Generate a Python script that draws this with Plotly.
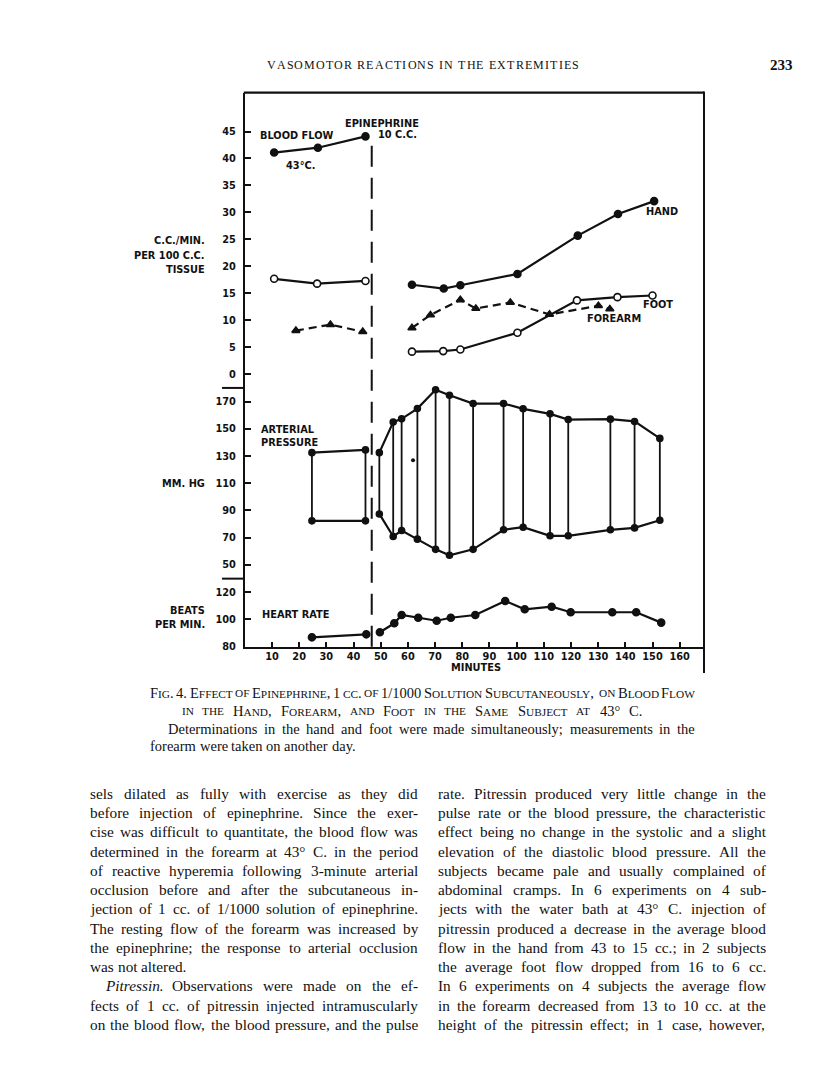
import plotly.graph_objects as go

W, H = 816, 1078

# ---------------- data ----------------
INJECTION_MIN = 46.7

# Blood flow, c.c./min per 100 c.c. tissue
hand_pre_t = [10.8, 26.9, 44.4]
hand_pre = [41.1, 42.0, 44.1]
hand_post_t = [61.5, 73.2, 79.3, 100.3, 122.5, 137.3, 150.6]
hand_post = [16.6, 15.9, 16.5, 18.6, 25.7, 29.7, 32.1]

foot_pre_t = [10.8, 26.6, 44.4]
foot_pre = [17.7, 16.8, 17.3]
foot_post_t = [61.5, 73.0, 79.3, 100.3, 122.2, 137.1, 150.0]
foot_post = [4.2, 4.3, 4.6, 7.7, 13.7, 14.3, 14.6]

forearm_pre_t = [18.8, 31.5, 43.4]
forearm_pre = [8.1, 9.2, 7.9]
forearm_post_t = [61.5, 68.3, 79.3, 85.0, 97.7, 112.1, 130.1, 134.3]
forearm_post = [8.6, 11.0, 13.8, 12.2, 13.3, 11.1, 12.7, 12.1]

# Arterial pressure, mm Hg
bp_pre_t = [24.7, 44.4]
bp_pre_sys = [132.6, 134.6]
bp_pre_dia = [82.3, 82.3]
bp_post_t = [49.5, 54.6, 57.7, 63.5, 70.2, 75.3, 84.0, 95.2, 102.4, 112.3, 119.0, 134.5, 143.4, 152.7]
bp_post_sys = [132.6, 155.1, 157.5, 165.1, 179.0, 174.9, 168.8, 168.8, 164.9, 161.2, 157.0, 157.3, 155.6, 143.1]
bp_post_dia = [87.4, 70.8, 75.2, 68.8, 61.3, 56.9, 61.3, 75.7, 77.6, 71.3, 71.3, 75.7, 77.1, 82.8]
bp_speck_t = [61.9]
bp_speck = [127.0]

# Heart rate, beats per min
hr_pre_t = [24.7, 44.7]
hr_pre = [86.9, 89.1]
hr_post_t = [49.7, 55.0, 57.7, 63.8, 70.6, 75.8, 84.8, 95.8, 103.0, 112.9, 119.9, 135.2, 144.0, 153.2]
hr_post = [90.6, 97.2, 103.3, 101.3, 99.1, 101.3, 103.3, 113.6, 107.5, 109.4, 105.3, 105.3, 105.3, 97.7]

# Tick labels
x_ticks = list(range(10, 161, 10))
flow_ticks = list(range(0, 46, 5))
bp_ticks = list(range(50, 171, 20))
hr_ticks = [80, 100, 120]

# ---------------- page text ----------------
header = "VASOMOTOR REACTIONS IN THE EXTREMITIES"
page_no = "233"
cap1 = "Fig. 4.  Effect of Epinephrine, 1 cc. of 1/1000 Solution Subcutaneously, on Blood Flow"
cap2 = "in the Hand, Forearm, and Foot in the Same Subject at 43° C."
cap3 = "Determinations in the hand and foot were made simultaneously; measurements in the"
cap4 = "forearm were taken on another day."
left_col = [
    "sels dilated as fully with exercise as they did",
    "before injection of epinephrine. Since the exer-",
    "cise was difficult to quantitate, the blood flow was",
    "determined in the forearm at 43° C. in the period",
    "of reactive hyperemia following 3-minute arterial",
    "occlusion before and after the subcutaneous in-",
    "jection of 1 cc. of 1/1000 solution of epinephrine.",
    "The resting flow of the forearm was increased by",
    "the epinephrine; the response to arterial occlusion",
    "was not altered.",
    "<i>Pitressin.</i> Observations were made on the ef-",
    "fects of 1 cc. of pitressin injected intramuscularly",
    "on the blood flow, the blood pressure, and the pulse",
]
right_col = [
    "rate. Pitressin produced very little change in the",
    "pulse rate or the blood pressure, the characteristic",
    "effect being no change in the systolic and a slight",
    "elevation of the diastolic blood pressure. All the",
    "subjects became pale and usually complained of",
    "abdominal cramps. In 6 experiments on 4 sub-",
    "jects with the water bath at 43° C. injection of",
    "pitressin produced a decrease in the average blood",
    "flow in the hand from 43 to 15 cc.; in 2 subjects",
    "the average foot flow dropped from 16 to 6 cc.",
    "In 6 experiments on 4 subjects the average flow",
    "in the forearm decreased from 13 to 10 cc. at the",
    "height of the pitressin effect; in 1 case, however,",
]

# ---------------- helpers ----------------
def px(x):
    return x / W

def py(y):
    return 1 - y / H

INK = "#111111"
LETTER = "DejaVu Sans"
SERIF = "Liberation Serif"

# Times-compatible advance widths (per 1000 em)
TW = {' ': 250, ',': 250, '.': 250, ';': 278, ':': 278, '-': 333, '/': 278, '°': 400,
      "'": 333, '(': 333, ')': 333}
for d in "0123456789":
    TW[d] = 500
TW.update(dict(zip("ABCDEFGHIJKLMNOPQRSTUVWXYZ",
                   [722, 667, 667, 722, 611, 556, 722, 722, 333, 389, 722, 611, 889, 722, 722,
                    556, 722, 667, 556, 611, 722, 722, 944, 722, 722, 611])))
TW.update(dict(zip("abcdefghijklmnopqrstuvwxyz",
                   [444, 500, 444, 500, 444, 333, 500, 500, 278, 278, 500, 278, 778, 500, 500,
                    500, 500, 333, 389, 278, 500, 500, 722, 500, 500, 444])))

def strip_tags(s):
    out, inside = "", False
    for ch in s:
        if ch == "<":
            inside = True
        elif ch == ">":
            inside = False
        elif not inside:
            out += ch
    return out

def word_width(w, size, small=None):
    w = strip_tags(w)
    tot = 0.0
    for ch in w:
        if small is not None and ch.islower():
            tot += TW.get(ch.upper(), 600) * small / 1000
        else:
            tot += TW.get(ch, 500) * size / 1000
    return tot

def smallcaps(word, small):
    out, buf = "", ""
    for ch in word:
        if ch.islower():
            buf += ch.upper()
        else:
            if buf:
                out += f'<span style="font-size:{small}px">{buf}</span>'
                buf = ""
            out += ch
    if buf:
        out += f'<span style="font-size:{small}px">{buf}</span>'
    return out

fig = go.Figure()

def line_trace(t, v, yaxis, symbol="circle", fill=True, dash="solid", msize=7):
    fig.add_trace(go.Scatter(
        x=t, y=v, xaxis="x", yaxis=yaxis, mode="lines+markers",
        line=dict(color=INK, width=2.2, dash=dash),
        marker=dict(symbol=symbol, size=msize,
                    color=INK if fill else "white",
                    line=dict(color=INK, width=1.6)),
        showlegend=False, hoverinfo="skip", cliponaxis=False))

# blood flow
line_trace(hand_pre_t, hand_pre, "y")
line_trace(hand_post_t, hand_post, "y")
line_trace(foot_pre_t, foot_pre, "y", fill=False)
line_trace(foot_post_t, foot_post, "y", fill=False)
line_trace(forearm_pre_t, forearm_pre, "y", symbol="triangle-up", dash="8px,5px", msize=7)
line_trace(forearm_post_t, forearm_post, "y", symbol="triangle-up", dash="8px,5px", msize=7)

# arterial pressure
for tt, ss, dd in [(bp_pre_t, bp_pre_sys, bp_pre_dia), (bp_post_t, bp_post_sys, bp_post_dia)]:
    line_trace(tt, ss, "y2", msize=6)
    line_trace(tt, dd, "y2", msize=6)
    vx, vy = [], []
    for t, s, d in zip(tt, ss, dd):
        vx += [t, t, None]
        vy += [s, d, None]
    fig.add_trace(go.Scatter(x=vx, y=vy, xaxis="x", yaxis="y2", mode="lines",
                             line=dict(color=INK, width=1.8), showlegend=False,
                             hoverinfo="skip"))
fig.add_trace(go.Scatter(x=bp_speck_t, y=bp_speck, xaxis="x", yaxis="y2", mode="markers",
                         marker=dict(size=4, color=INK), showlegend=False, hoverinfo="skip"))

# heart rate
line_trace(hr_pre_t, hr_pre, "y3")
line_trace(hr_post_t, hr_post, "y3")

# ---------------- axes ----------------
X0, X1 = 236.8, 696.0
PPM = 2.718  # px per minute
tickfont = dict(family=LETTER, size=9.8, color=INK, weight="bold")

common_y = dict(showline=True, linecolor=INK, linewidth=2, ticks="inside", ticklen=6,
                tickwidth=1.6, tickcolor=INK, showgrid=False, zeroline=False,
                anchor="x", tickfont=tickfont, ticklabelstandoff=5)

fig.update_layout(
    width=W, height=H, margin=dict(l=0, r=0, t=0, b=0),
    paper_bgcolor="white", plot_bgcolor="rgba(0,0,0,0)",
    xaxis=dict(domain=[px(X0), px(X1)], range=[0, (X1 - X0) / PPM], anchor="y3",
               showline=True, linecolor=INK, linewidth=2, ticks="inside", ticklen=5,
               tickwidth=1.6, tickcolor=INK, tickvals=x_ticks, showgrid=False,
               zeroline=False, tickfont=tickfont, ticklabelstandoff=0),
    yaxis=dict(domain=[py(381.7), py(85)], range=[(368 - 381.7) / 5.42, (368 - 85) / 5.42],
               tickvals=flow_ticks, **common_y),
    yaxis2=dict(domain=[py(573.3), py(381.7)], range=[39.7, 180.3],
                tickvals=bp_ticks, **common_y),
    yaxis3=dict(domain=[py(641.7), py(573.3)], range=[80, 130.0],
                tickvals=hr_ticks, **common_y),
)

shapes = []
# frame: top and right sides
shapes.append(dict(type="line", xref="paper", yref="paper", x0=px(X0 - 1), x1=px(X1),
                   y0=py(85), y1=py(85), line=dict(color=INK, width=2.2)))
shapes.append(dict(type="line", xref="paper", yref="paper", x0=px(X1), x1=px(X1),
                   y0=py(84), y1=py(668), line=dict(color=INK, width=2)))
for yy in (381.7, 573.3):
    shapes.append(dict(type="line", xref="paper", yref="paper", x0=px(214), x1=px(X0),
                       y0=py(yy), y1=py(yy), line=dict(color=INK, width=2)))
shapes.append(dict(type="line", xref="x", yref="paper", x0=INJECTION_MIN, x1=INJECTION_MIN,
                   y0=py(641.7), y1=py(131), line=dict(color=INK, width=2, dash="21px,11px")))
fig.update_layout(shapes=shapes)

ann = []
def lab(text, x, y, xref="x", yref="y", size=9.8, xanchor="center", font=LETTER,
        weight="bold"):
    ann.append(dict(text=text, x=x, y=y, xref=xref, yref=yref, showarrow=False,
                    xanchor=xanchor, yanchor="middle", borderpad=0, borderwidth=0,
                    font=dict(family=font, size=size, color=INK, weight=weight)))

# in-chart labels
lab("BLOOD FLOW", 19.0, 44.3)
lab("43°C.", 20.6, 38.7)
lab("EPINEPHRINE", 50.4, 46.5)
lab("10 C.C.", 56.1, 44.4)
lab("HAND", 153.6, 30.2)
lab("FOOT", 151.9, 12.9)
lab("FOREARM", 136.0, 10.3)
lab("ARTERIAL", 6.1, 149.7, yref="y2", xanchor="left")
lab("PRESSURE", 6.1, 140.4, yref="y2", xanchor="left")
lab("HEART RATE", 18.7, 104.0, yref="y3")

def plab(text, x, y, size=9.8, xanchor="right", font=LETTER, weight="bold"):
    lab(text, px(x), py(y), xref="paper", yref="paper", size=size, xanchor=xanchor,
        font=font, weight=weight)

plab("C.C./MIN.", 197, 234)
plab("PER 100 C.C.", 197, 249)
plab("TISSUE", 197, 263)
plab("MM. HG", 197, 478)
plab("BEATS", 197, 605)
plab("PER MIN.", 197, 619)
plab("MINUTES", 468, 662.5, xanchor="center")

# ---------- typeset text: justified words ----------
def set_line(words, left, right, y, size, small=None, justify=True):
    ws = [word_width(w, size, small) for w in words]
    if justify and len(words) > 1:
        gap = (right - left - sum(ws)) / (len(words) - 1)
    else:
        gap = 0.25 * size
    x = left
    for w, wd in zip(words, ws):
        txt = smallcaps(w, small) if small is not None else w
        plab(txt, x, y, size=size, xanchor="left", font=SERIF, weight="normal")
        x += wd + gap

# header, letter-spaced capitals
HS = 12.0
hx0, hx1, hy = 259, 571, 57.5
chars = list(header)
cw = [TW.get(c, 600) * HS / 1000 for c in chars]
extra = (hx1 - hx0 - sum(cw)) / (len(chars) - 1)
x = hx0
for c, w in zip(chars, cw):
    if c != " ":
        plab(c, x, hy, size=HS, xanchor="left", font=SERIF, weight="normal")
    x += w + extra
plab(page_no, 785, 57.5, size=15, xanchor="right", font=SERIF, weight="bold")

# caption
CS, CSS = 14.5, 11.3
set_line(cap1.split(), 142, 687, 688, CS, small=CSS)
set_line(cap2.split(), 173.5, 634.6, 706, CS, small=CSS)
set_line(cap3.split(), 160, 687, 724, 14.5)
set_line(cap4.split(), 142, 687, 741.5, 14.5, justify=False)

# body columns
BS = 15.3
LX0, LX1, RX0, RX1 = 82, 410, 430, 758
Y0, DY = 789, 19.35
no_justify = {9}
for i, line in enumerate(left_col):
    lx = LX0 + (15 if i == 10 else 0)
    set_line(line.split(), lx, LX1, Y0 + i * DY, BS, justify=i not in no_justify)
for i, line in enumerate(right_col):
    set_line(line.split(), RX0, RX1, Y0 + i * DY, BS)

fig.update_layout(annotations=ann)
fig.write_html("out.html")
